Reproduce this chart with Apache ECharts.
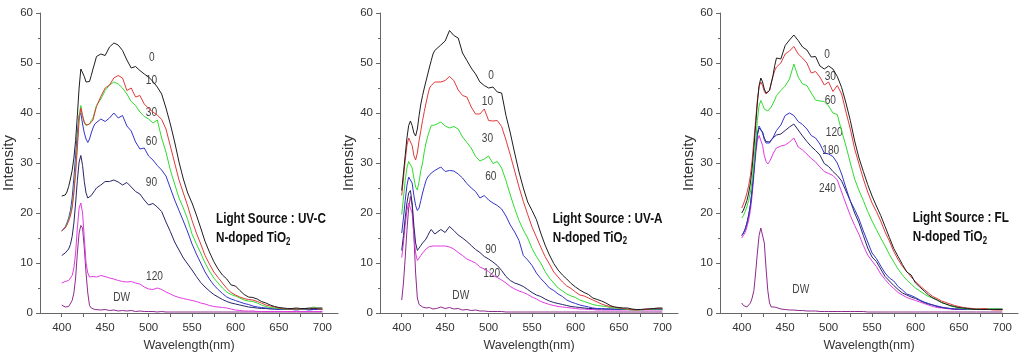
<!DOCTYPE html>
<html><head><meta charset="utf-8">
<script src="https://cdn.jsdelivr.net/npm/echarts@6/dist/echarts.min.js"></script>
<style>html,body{margin:0;padding:0;background:#fff;}#c{width:1021px;height:357px;}</style>
</head><body><div id="c"></div>
<script>
// wavelength grid (nm)
const wavelengths = [400,402,404,406,408,410,412,414,416,418,420,422,424,426,428,430,432,434,436,438,440,
445,450,455,460,465,470,475,480,485,490,495,500,505,510,515,520,525,530,535,540,
545,550,555,560,565,570,575,580,585,590,595,600,605,610,615,620,625,630,635,640,
645,650,655,660,665,670,675,680,685,690,695,700];
const xTickLabels = [400,450,500,550,600,650,700];
const xTicks = [400,425,450,475,500,525,550,575,600,625,650,675,700];

// Panel 1: UV-C
const uvc_0 = [23.4,23.4,23.6,24.2,25.3,26.8,28.5,31,34.5,39.5,45,48.8,48.5,47.3,46.2,45.8,46.3,47.5,48.8,50,51.3,
51.8,51.5,53.2,54,53.6,52.5,50.6,49,49.3,48.5, 47.8,47.2,46.3,45.2,43.8,41,37.8,34.2,30.2,26.8,
24,22,19.6,17,14.3,12.2,10.3,8.8,7.6,6.8, 5.6,5.4,4.5,3.7,3.2,3.1,2.8,2.3,2,1.6, 1.3,1.1,1,0.9,0.9,1,0.9,0.9,1,0.9, 1,1];
const uvc_10 = [16.4,16.6,17,17.6,18.4,19.4,21,24,28,33,38.5,41,39.5,38.2,37.6,37.5,37.8,38.2,38.6,40,41.3,
43.3,45,45.6,47,47.5,47,44.5,45,43.2,43.5, 41.8,40.9,40.2,39.6,38.7,36.8,33.4,30,26.6,24,
21.4,18.5,16,13.8,11.5,9.8,8.2,7.1,6,4.9, 4.1,3.6,3.2,2.9,2.7,2.6,2.3,2,1.6,1.4, 1.2,1,0.9,0.8,0.8,0.8,0.8,0.9,0.8,1, 0.8,0.8];
const uvc_30 = [16.4,16.6,17,17.8,18.7,19.8,21.5,24.5,29,34,39.5,41.5,39.3,38,37.5,37.4,37.8,38.5,39,40.3,41.5,
42.8,44.5,45.6,46.2,45.8,45,43.8,42.3,41.5,40.2, 39.3,38.8,38,38.6,35,32.2,28.6,25.8,23,21,
18.7,15.8,13.8,12,10,8.4,7,6,5,4.2, 3.7,3.4,3,2.6,2.4,2.3,2,1.6,1.3,1.1, 1,0.9,0.8,0.8,0.8,0.8,0.8,0.8,0.9,1.2, 0.9,0.8];
const uvc_60 = [16.4,16.6,17.2,18,19,20.5,23,27,31.5,36,39.5,40,37.8,36,34.8,34.1,34.8,36,37,37.8,38.2,
38.8,38.3,39,40,39,39.5,37.4,36.4,34.2,32.8, 33,31.4,30.6,29.5,28.6,27.4,25,22.6,20.5,18.4,
16.2,13.8,11.8,10,8.2,6.8,5.6,4.7,3.9,3.2, 2.8,2.5,2.2,1.9,1.7,1.4,1.2,1.1,1,0.9, 0.8,0.7,0.7,0.7,0.7,0.6,0.7,0.7,0.6,0.7, 0.7,0.7];
const uvc_90 = [11.5,11.7,12,12.3,12.8,13.7,15.3,18,22,26.5,30.2,31.5,29.5,26.3,24,23,23,23.5,24,24.5,25,
25.6,26.3,26.3,26.6,26.2,25.6,26.1,25.2,24.3,23.8, 22.6,21.6,21.9,21.2,20.3,18.2,16.3,14.2,12.6,11,
9.8,8.6,7.3,6.1,5.2,4.4,3.7,3.2,2.7,2.3, 2,1.8,1.6,1.4,1.2,1.1,1,0.9,0.9,0.8, 0.8,0.7,0.7,0.7,0.7,0.7,0.7,0.7,0.7,0.7, 0.7,0.7];
const uvc_120 = [6,6,6.3,6.5,6.5,7,7.5,9,12,17,21,22,20,15,10,8,7.2,7,7.3,7,7.2,
7.5,7.3,7,6.8,6.5,6.3,6.2,6.3,6,5.8, 5.2,4.8,4.7,5,4.7,4.2,3.8,3.4,3.1,2.9,
2.7,2.5,2.3,2,1.8,1.5,1.3,1.2,1.1,1, 0.8,0.6,0.5,0.4,0.4,0.4,0.3,0.3,0.3,0.3, 0.3,0.3,0.3,0.3,0.3,0.3,0.3,0.3,0.3,0.3, 0.3,0.3];
const uvc_dw = [1.6,1.5,1.2,1,1.3,1.6,2.5,4,7,12,16,17.5,17,13,8,4,1.5,1,0.8,0.7,0.8,
0.6,0.7,0.5,0.6,0.4,0.5,0.4,0.5,0.3,0.4, 0.3,0.3,0.3,0.2,0.3,0.2,0.2,0.2,0.2,0.2,
0.2,0.2,0.2,0.2,0.2,0.2,0.2,0.2,0.2,0.2, 0.2,0.2,0.2,0.2,0.2,0.2,0.2,0.2,0.2,0.2, 0.2,0.2,0.2,0.2,0.2,0.2,0.2,0.2,0.2,0.2, 0.2,0.2];

// Panel 2: UV-A
const uva_0 = [24.5,28,31.5,35,37.5,38.4,37.5,36,35.4,36.8,39.5,41.8,43.5,45,46.4,47.8,49.2,50.5,51.8,52.5,52.8,
53.6,54.4,56.5,55.5,55,52,50.5,49,47.8,46.2, 45.5,45,45.2,44.2,44,39.5,36,32,28.2,25,
22.2,20.5,18.7,16,13.6,11.6,9.9,8.6,7.6,6.8, 5.9,5.2,4.6,4.1,3.7,3,2.7,2.4,2,1.5, 1.2,1.1,1,1,0.8,0.7,0.7,0.8,0.8,0.9, 1,1];
const uva_10 = [23.5,27,30.5,33.5,35,35.2,33.5,31.5,30.6,32,34.5,36.5,38.5,40.3,42,43.6,45,45.5,45.8,46.2,46.2,
46.2,46.5,47.3,46.5,44.6,43.5,43.2,41.2,39.8,39.8, 40.8,38.5,38.4,38.5,37.3,34.6,31.6,28.4,25.2,22.3,
19.7,17.2,15.2,13.2,11.3,9.8,8.2,7.2,6.2,5.4, 4.9,4.2,3.6,3.4,3,2.6,2.2,1.8,1.5,1.3, 1.2,1,0.9,0.8,0.7,0.6,0.7,0.7,0.8,0.9, 0.9,0.9];
const uva_30 = [19.7,23,26.5,29,30.3,30.5,29,27,25.2,24.6,26.3,28.5,30,32.3,34,35.4,36.5,37.5,37.7,37.6,37.6,
38.2,37.4,37,37.3,36.8,35.2,34.1,33,31.3,30.4, 30.8,31.4,29.9,30.3,29,26.5,23.6,20.9,18.5,16.6,
15,12.9,11.3,10,8.3,7,6,5,4.4,3.8, 3.4,3.1,2.6,2.3,2,1.7,1.5,1.4,1.3,1.1, 1,0.9,0.8,0.7,0.6,0.6,0.6,0.7,0.7,0.8, 0.8,0.8];
const uva_60 = [16,19,22.5,25.5,27.2,27.5,26,23.5,21.5,20.5,21,22.5,24,25.3,26.5,27.2,27.6,28,28.2,28.5,28.7,
29.2,28.3,28.5,28.4,27.8,27,25.9,25,24.3,23, 23.5,22.6,22,21.5,20.8,19.4,17.6,16.2,14.5,11.5,
10.6,9.5,8,6.9,6,5,4.5,3.8,3.3,2.6, 2.2,1.9,1.6,1.4,1.2,1,0.9,0.9,0.8,0.8, 0.7,0.7,0.7,0.7,0.7,0.7,0.7,0.7,0.8,0.8, 0.7,0.7];
const uva_90 = [12.5,15.5,19,22,24,24.5,22,17.5,14,12.5,12.8,13.5,14,14.3,14.8,15.5,16.2,16.7,16.3,15.8,15.4,
16.7,16.1,17.3,16.5,15.6,15,14.3,13.5,12.7,12.1, 11.3,10.8,10.2,9.5,8.5,7.3,6.5,6,5.7,5.3,
4.7,4.1,3.6,3.3,2.8,2.4,2.1,1.9,1.7,1.5, 1.3,1.2,1.1,1,0.9,0.9,0.8,0.8,0.8,0.8, 0.8,0.7,0.7,0.7,0.7,0.7,0.7,0.7,0.7,0.7, 0.7,0.7];
const uva_120 = [11.1,14,17.5,20.5,22,22.2,20,15.5,12,10.5,10.8,11.5,12,12.4,12.8,13.1,13.3,13.4,13.4,13.3,13.4,
13.4,13.4,13.2,12.8,12.1,11.5,10.8,10.4,10,9.2, 8.8,8.3,7.5,7.1,6.6,6,5.3,4.8,4.4,4.1,
3.7,3.2,2.8,2.3,2,1.7,1.5,1.3,1.2,1.1, 1,0.9,0.8,0.8,0.7,0.7,0.6,0.6,0.6,0.6, 0.6,0.6,0.6,0.6,0.6,0.6,0.6,0.6,0.6,0.6, 0.6,0.6];
const uva_dw = [2.6,6,11,16.5,21,23.3,21.5,15.5,8,3,1.7,1.4,1.2,1.3,1,0.9,1.1,0.9,0.8,1,0.9,
1.2,0.9,1.1,0.8,0.9,0.6,0.7,0.5,0.6,0.4, 0.4,0.3,0.3,0.3,0.3,0.2,0.2,0.2,0.2,0.2,
0.2,0.2,0.2,0.2,0.2,0.2,0.2,0.2,0.2,0.2, 0.2,0.2,0.2,0.2,0.2,0.2,0.2,0.2,0.2,0.2, 0.2,0.2,0.2,0.2,0.2,0.2,0.2,0.2,0.2,0.2, 0.2,0.2];

// Panel 3: FL
const fl_0 = [20,20.6,21.5,22.5,24,26,29,33,37.5,42,45.5,47,46.2,44.8,44,43.9,44.5,46,47.5,49.5,51,
50.8,53.5,54.6,55.6,54.5,53.2,52.6,51.2,51.3,49.4, 48.8,49.4,48.8,47.3,45.1,42,38.5,34.4,31,28.3,
25.7,23.4,21.4,19.5,17.3,15.1,12.9,11.3,9.7,8.2, 7.6,6,5.2,4.4,3.6,3,2.6,2.1,1.8,1.5, 1.3,1.1,1,0.9,0.8,0.7,0.7,0.7,0.7,0.7, 0.7,0.7];
const fl_30 = [21,21.8,22.8,24,25.5,27.5,30.5,34.5,38.5,42.5,45.3,46.2,45.5,44.3,43.8,43.8,44.5,46,47.3,48.5,49.2,
50,51.8,52.4,53.3,51.8,51,50,48,48.3,47.2, 45.6,46.2,44.3,45.5,43.8,40.2,36.8,32.8,29.8,26.8,
24.2,22,20.3,18.4,16.2,14.4,12.3,10.7,9.3,8.3, 7.2,6.3,5.5,4.7,4,3.3,2.9,2.4,2.1,1.8, 1.5,1.3,1.1,1,0.9,0.8,0.8,0.9,0.7,0.6, 0.6,0.6];
const fl_60 = [19,19.5,20.3,21.3,22.5,24.2,26.5,30,34,38.5,41.5,42.5,41.7,40.8,40.4,40.4,40.8,41.2,41.6,42.6,43.5,
44.5,45.4,46.8,49.8,47.2,45.8,45.5,44,42.6,42.4, 42.3,41.4,40,39.7,36.4,33.4,30,26.8,24.5,22.5,
20.3,18.4,16.7,15,13.4,11.7,10.2,8.8,7.6,6.6, 5.8,5,4.4,3.8,3.3,3,2.6,2.1,1.8,1.4, 1.2,1,0.9,0.8,0.8,0.8,0.8,0.8,0.8,0.8, 0.8,0.8];
const fl_120 = [15.5,16,16.8,18,19.5,21.5,24.5,28.5,32.5,36,37.4,37.5,36,34.7,34,33.6,34,34.6,35.1,35.8,36.5,
37.6,39.5,40,39.5,38.3,37.7,36.8,35.5,35,33.8, 32,31.8,31.3,30,27.8,25,22.4,20.7,18.8,16.4,
14.2,12,10.9,9.4,8,7,6.4,5.3,4.6,3.8, 3.5,3.1,2.6,2.2,1.9,1.6,1.4,1.2,1,0.9, 0.8,0.8,0.7,0.7,0.7,0.7,0.7,0.7,0.7,0.7, 0.7,0.7];
const fl_180 = [15.5,16,16.8,18,19.6,21.7,24.8,28.5,32.5,35.5,37,37,36.2,35,34.3,34,34.2,34.5,35,35.3,35.6,
35.8,36.5,37.2,37.8,36.6,35.4,34.3,33.3,32.5,31.6, 29.9,29.3,28.3,27.5,26.4,24.4,22.4,20,18,15.5,
13,11.2,10.3,8.8,7.3,6.4,5.5,4.7,4,3.6, 3.2,2.9,2.5,2.1,1.8,1.6,1.3,1.1,1,0.9, 0.8,0.8,0.8,0.8,0.8,0.8,0.8,0.8,0.8,0.8, 0.8,0.8];
const fl_240 = [15,15.4,16.1,17.2,18.6,20.5,23.5,27.5,31.5,34.5,35.5,35.4,33.5,31.5,30.3,29.8,30.3,31,31.8,32.5,33,
33.4,33.6,34.2,35,33.2,32.6,31.8,30.9,30.2,29.2, 28.3,27.9,27.5,26.6,24.2,21.8,19.5,17.5,15.7,13.5,
11.6,10.4,9.3,7.8,6.7,5.7,4.9,4.1,3.6,3.1, 2.8,2.5,2.2,1.9,1.6,1.3,1.1,1,0.9,0.8, 0.7,0.7,0.7,0.7,0.7,0.7,0.7,0.7,0.7,0.7, 0.7,0.7];
const fl_dw = [2,1.5,1.3,1.2,1.5,2,3,4.5,8,12,15.5,17,17.2,14,9,4.5,2,1.2,1,1.2,0.9,
0.8,0.7,0.6,0.6,0.5,0.5,0.4,0.4,0.4,0.3, 0.3,0.3,0.3,0.3,0.3,0.3,0.3,0.3,0.3,0.3,
0.2,0.2,0.2,0.2,0.2,0.2,0.2,0.2,0.2,0.2, 0.2,0.2,0.2,0.2,0.2,0.2,0.2,0.2,0.2,0.2, 0.2,0.2,0.2,0.2,0.2,0.2,0.2,0.2,0.2,0.2, 0.2,0.2];

const C = {black:'#1e1e1e', red:'#e23a3a', green:'#2fdc2f', blue:'#3434cc', navy:'#262668', magenta:'#e03ce0', dw:'#8e2a8e'};
const FONT = "'Liberation Sans',Arial,sans-serif";
const SQ = 0.78; // horizontal squeeze of the annotation text

const panels = [
  [[uvc_dw,C.dw],[uvc_120,C.magenta],[uvc_90,C.navy],[uvc_60,C.blue],[uvc_30,C.green],[uvc_10,C.red],[uvc_0,C.black]],
  [[uva_dw,C.dw],[uva_120,C.magenta],[uva_90,C.navy],[uva_60,C.blue],[uva_30,C.green],[uva_10,C.red],[uva_0,C.black]],
  [[fl_dw,C.dw],[fl_240,C.magenta],[fl_180,C.navy],[fl_120,C.blue],[fl_60,C.green],[fl_30,C.red],[fl_0,C.black]]
];
const lefts = [40,380,720];

const grid=[],xAxis=[],yAxis=[],series=[];
lefts.forEach((l,i)=>{
  grid.push({left:l,top:13,width:298,height:305});
  xAxis.push({type:'value',gridIndex:i,min:375,max:718,
    name:'Wavelength(nm)',nameLocation:'middle',nameGap:26,
    nameTextStyle:{fontFamily:FONT,fontSize:12.5,color:'#333'},
    axisLine:{lineStyle:{color:'#666'}},
    axisTick:{show:true,length:4,customValues:xTicks,lineStyle:{color:'#666'}},
    axisLabel:{customValues:xTickLabels,fontFamily:FONT,fontSize:11.5,color:'#333',margin:9},
    splitLine:{show:false}});
  yAxis.push({type:'value',gridIndex:i,min:0,max:60,interval:10,
    name:'Intensity',nameLocation:'middle',nameGap:19,nameRotate:90,
    nameTextStyle:{fontFamily:FONT,fontSize:15,color:'#333'},
    axisLine:{show:true,lineStyle:{color:'#666'}},
    axisTick:{show:true,length:4,lineStyle:{color:'#666'}},
    minorTick:{show:true,splitNumber:2,length:2,lineStyle:{color:'#666'}},
    axisLabel:{fontFamily:FONT,fontSize:11.5,color:'#333',margin:7},
    splitLine:{show:false}});
  panels[i].forEach(([vals,col])=>{
    series.push({type:'line',xAxisIndex:i,yAxisIndex:i,showSymbol:false,silent:true,
      data:wavelengths.map((w,k)=>[w,vals[k]]),
      lineStyle:{color:col,width:1},itemStyle:{color:col}});
  });
});

function lab(t,x,y){return {type:'text',x:x,y:y,scaleX:SQ,silent:true,style:{text:t,fill:'#444',font:"13px "+FONT,textAlign:'center',textVerticalAlign:'middle'}};}
function note(line,x,y){
  return [
    {type:'text',x:x,y:y,scaleX:SQ,silent:true,style:{text:line,fill:'#111',font:"bold 15px "+FONT,textAlign:'left',textVerticalAlign:'middle'}},
    {type:'text',x:x,y:y+19,scaleX:SQ,silent:true,style:{text:'{a|N-doped TiO}{b|2}',fill:'#111',textAlign:'left',textVerticalAlign:'middle',
      rich:{a:{font:"bold 15px "+FONT,fill:'#111'},b:{font:"bold 10px "+FONT,fill:'#111',padding:[8,0,0,0]}}}}
  ];
}
const graphic = [
  lab('0',151.7,57),lab('10',151.5,80.5),lab('30',151.5,112.5),lab('60',151.5,141),lab('90',151.5,182),lab('120',154.5,276),lab('DW',121.7,297.5),
  lab('0',491,75),lab('10',487.5,101.3),lab('30',487.5,138),lab('60',490.8,176),lab('90',490.8,249),lab('120',491.7,273.3),lab('DW',460.8,295),
  lab('0',827,54.3),lab('30',830.3,76),lab('60',830.3,100.5),lab('120',834.2,132.8),lab('180',830.8,150.5),lab('240',827.5,188.7),lab('DW',800.8,289),
  ...note('Light Source : UV-C',216,219),
  ...note('Light Source : UV-A',552.7,218.7),
  ...note('Light Source : FL',912.7,217.8)
];

const chart = echarts.init(document.getElementById('c'),null,{renderer:'canvas'});
chart.setOption({animation:false,backgroundColor:'#fff',grid,xAxis,yAxis,series,graphic});
</script></body></html>
